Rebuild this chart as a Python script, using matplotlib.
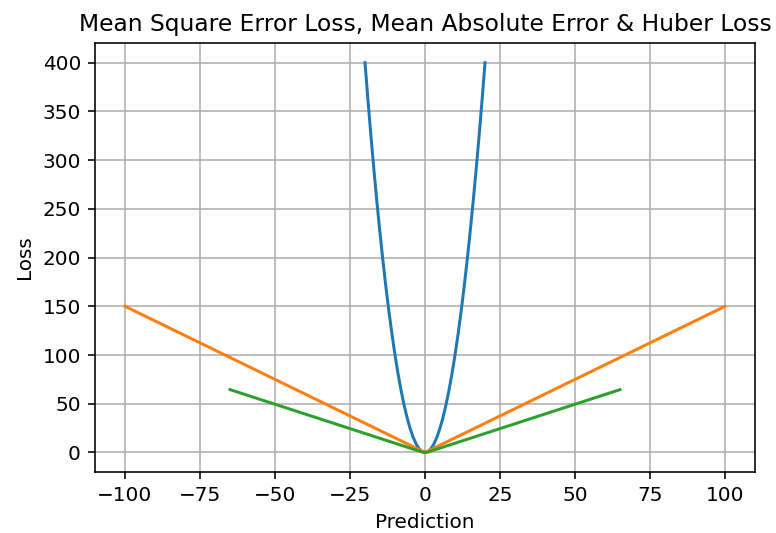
import matplotlib
matplotlib.use("Agg")
import matplotlib.pyplot as plt

# MSE curve
mse_x = [-20, -19, -18, -17, -16, -15, -14, -13, -12, -11, -10, -9, -8, -7, -6, -5, -4, -3, -2, -1,
         0, 1, 2, 3, 4, 5, 6, 7, 8, 9, 10, 11, 12, 13, 14, 15, 16, 17, 18, 19, 20]
mse_y = [400, 361, 324, 289, 256, 225, 196, 169, 144, 121, 100, 81, 64, 49, 36, 25, 16, 9, 4, 1,
         0, 1, 4, 9, 16, 25, 36, 49, 64, 81, 100, 121, 144, 169, 196, 225, 256, 289, 324, 361, 400]

# MAE line
mae_x = [-100, 0, 100]
mae_y = [150, 0, 150]

# Huber line
huber_x = [-65, -1, 0, 1, 65]
huber_y = [64.5, 0.5, 0, 0.5, 64.5]

fig = plt.figure(figsize=(776 / 144, 533 / 144), dpi=144)
ax = fig.add_axes([0.1224, 0.1145, 0.8506, 0.8045])

ax.plot(mse_x, mse_y, color="#1f77b4", lw=1.5)
ax.plot(mae_x, mae_y, color="#ff7f0e", lw=1.5)
ax.plot(huber_x, huber_y, color="#2ca02c", lw=1.5)

ax.set_xticks([-100, -75, -50, -25, 0, 25, 50, 75, 100])
ax.set_yticks([0, 50, 100, 150, 200, 250, 300, 350, 400])
ax.grid(True)
ax.set_title("Mean Square Error Loss, Mean Absolute Error & Huber Loss", fontsize=11.7)
ax.set_xlabel("Prediction")
ax.set_ylabel("Loss")

fig.savefig("out.png", dpi=144)
